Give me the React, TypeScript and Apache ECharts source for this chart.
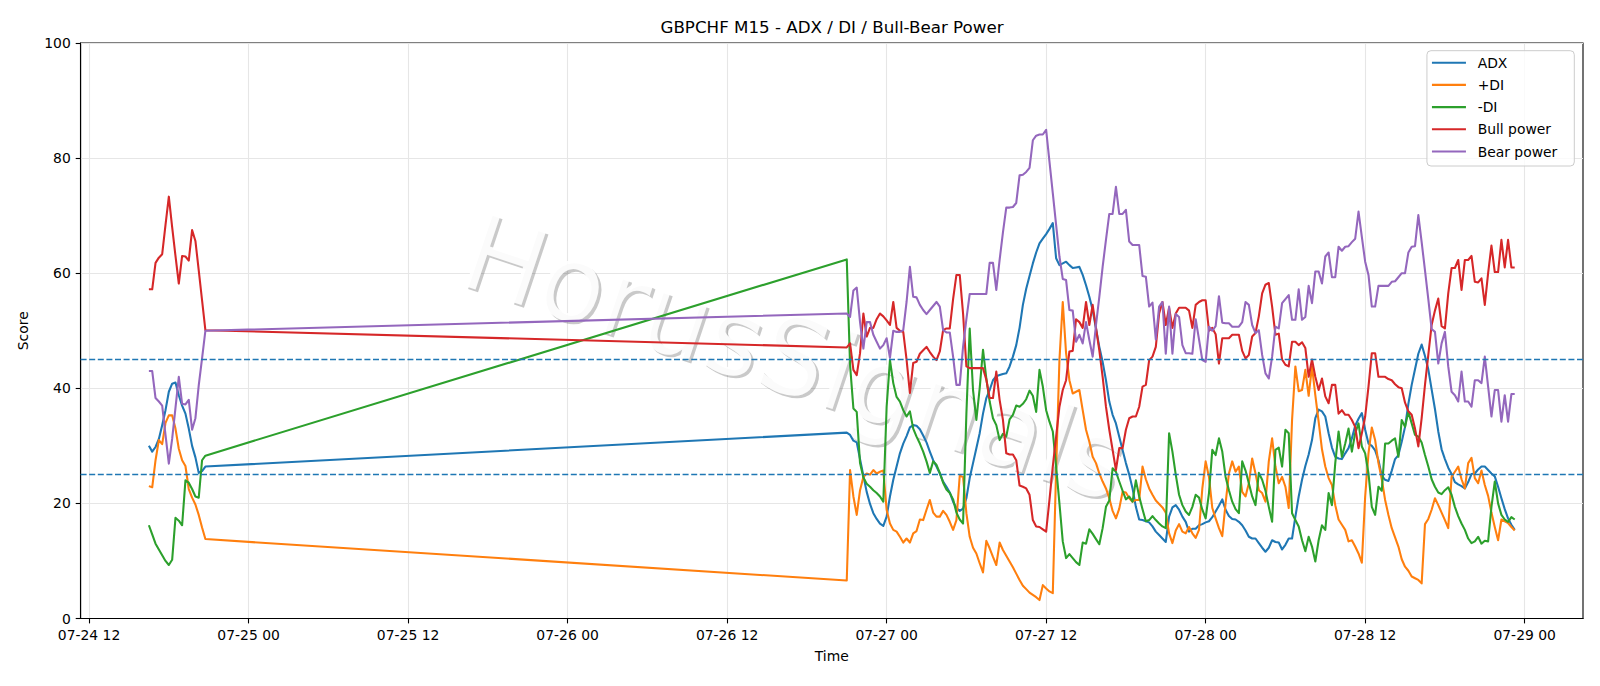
import React, { useEffect, useRef } from "react";
import * as echarts from "echarts";

// ---- data ----
const seg1Start = "2026-07-24T16:30:00Z";
const seg2Start = "2026-07-26T21:00:00Z";
const barMinutes = 15;

const adx1 = [30.0, 29.0, 29.8, 31.2, 33.6, 36.2, 39.4, 40.8, 41.0, 38.8, 37.0, 35.6, 33.0, 30.0, 28.0, 25.3, 25.6, 26.4];
const plusDi1 = [23.0, 22.8, 27.5, 31.0, 30.3, 34.0, 35.3, 35.3, 33.0, 29.5, 27.5, 26.5, 22.5, 21.0, 19.8, 18.0, 15.8, 13.8];
const minusDi1 = [16.2, 14.6, 13.0, 12.0, 11.0, 10.0, 9.3, 10.2, 17.5, 17.0, 16.2, 24.0, 23.6, 22.5, 21.2, 21.0, 27.5, 28.3];
const bull1 = [57.2, 57.2, 61.8, 62.7, 63.3, 68.4, 73.3, 68.0, 63.0, 58.2, 63.0, 62.9, 62.2, 67.5, 65.6, 60.5, 55.3, 50.1];
const bear1 = [43.0, 43.0, 38.3, 37.7, 37.0, 31.9, 26.9, 31.2, 36.6, 42.0, 37.3, 37.2, 38.0, 32.8, 34.8, 40.5, 45.2, 50.0];

const adx2 = [
  32.3, 31.9, 30.9, 30.6, 27.7, 24.8, 22.0, 19.9, 18.3, 17.3,
  16.5, 16.1, 17.7, 21.2, 24.1, 26.4, 28.7, 30.4, 31.7, 33.2,
  33.6, 33.5, 32.9, 31.8, 30.6, 29.0, 27.5, 26.4, 25.2, 23.8,
  22.9, 21.9, 20.3, 19.2, 18.7, 19.1, 20.9, 24.4, 27.0, 29.6,
  32.2, 35.6, 38.3, 39.7, 41.4, 42.1, 42.3, 42.5, 42.6, 43.8,
  45.5, 47.5, 50.5, 54.5, 57.3, 59.5, 61.7, 63.6, 65.2, 66.0,
  66.8, 67.7, 68.7, 62.6, 61.4, 61.7, 62.0, 61.4, 60.9, 61.0,
  61.1, 59.7, 57.9, 55.9, 53.6, 50.4, 47.2, 44.6, 41.4, 37.7,
  35.4, 33.9, 31.6, 29.3, 27.0, 25.0, 22.6, 19.4, 17.2, 17.1,
  16.9, 16.7, 16.0, 15.1, 14.5, 13.9, 13.3, 17.7, 19.3, 19.7,
  18.9, 17.7, 16.8, 15.1, 15.6, 15.6, 16.2, 16.4, 16.7, 16.9,
  17.6, 18.6, 19.6, 20.7, 18.9, 17.8, 17.3, 17.2, 16.8, 16.2,
  15.3, 14.2, 13.9, 13.9, 13.1, 12.3, 11.6, 12.3, 13.6, 13.3,
  13.2, 12.0, 12.8, 13.9, 13.9, 17.7, 21.2, 24.1, 26.5, 28.5,
  31.0, 34.8, 36.3, 36.0, 35.1, 32.2, 29.7, 28.1, 27.8, 27.7,
  28.7, 29.6, 31.3, 33.5, 34.7, 35.7, 32.8, 30.4, 30.0, 29.2,
  27.5, 24.8, 24.1, 23.9, 25.7, 27.7, 28.4, 30.7, 33.3, 37.3,
  40.6, 43.3, 46.0, 47.6, 45.6, 43.3, 39.8, 36.4, 32.5, 29.4,
  27.7, 26.2, 25.1, 23.7, 23.3, 23.0, 22.6, 23.7, 25.1, 25.2,
  25.9, 26.4, 26.4, 25.8, 25.2, 24.7, 22.9, 20.9, 19.0, 17.4,
  16.3, 15.4,
];
const plusDi2 = [
  6.6, 25.8, 21.2, 18.0, 22.3, 24.6, 25.2, 25.0, 25.8, 25.2,
  25.5, 25.7, 18.9, 16.5, 15.4, 15.1, 14.2, 13.2, 13.9, 13.2,
  14.8, 15.2, 17.2, 17.1, 18.9, 20.6, 18.4, 17.7, 17.7, 18.7,
  18.0, 16.8, 15.4, 17.1, 24.8, 24.6, 18.3, 14.2, 12.3, 11.3,
  9.6, 8.0, 13.5, 12.2, 10.7, 9.3, 13.2, 11.9, 10.9, 9.9,
  8.9, 7.8, 6.7, 5.7, 5.1, 4.5, 4.1, 3.7, 3.2, 5.8,
  5.2, 4.7, 4.4, 25.8, 44.9, 55.0, 46.1, 41.4, 39.1, 39.4,
  39.7, 36.2, 32.8, 30.7, 28.1, 27.0, 25.2, 23.8, 22.6, 20.9,
  18.7, 17.4, 19.1, 22.0, 21.9, 20.9, 20.3, 20.6, 20.6, 26.4,
  24.2, 22.6, 21.5, 20.5, 19.9, 19.3, 18.4, 14.8, 13.1, 15.3,
  16.4, 15.1, 14.8, 15.9, 14.8, 14.0, 15.4, 22.6, 27.3, 24.6,
  19.2, 17.4, 15.7, 14.3, 20.0, 25.2, 27.3, 25.5, 26.4, 22.0,
  21.2, 23.5, 27.8, 25.2, 22.3, 21.8, 20.3, 27.3, 31.3, 26.4,
  23.5, 24.6, 22.9, 19.2, 34.5, 43.8, 39.5, 39.7, 43.2, 38.7,
  43.8, 38.8, 34.2, 29.4, 26.4, 24.4, 23.2, 19.7, 17.2, 16.3,
  15.4, 13.4, 13.6, 12.5, 11.3, 9.7, 21.2, 28.7, 33.2, 31.0,
  27.0, 24.2, 20.6, 18.0, 15.7, 14.1, 12.5, 10.3, 9.0, 8.3,
  7.3, 7.0, 6.7, 6.1, 16.4, 17.3, 18.9, 20.9, 19.7, 18.4,
  17.1, 15.7, 24.6, 25.5, 26.4, 24.2, 22.6, 27.0, 27.9, 24.4,
  23.5, 25.7, 23.2, 21.3, 18.4, 15.9, 13.6, 17.2, 16.9, 16.6,
  15.9, 15.3,
];
const minusDi2 = [
  62.4, 44.0, 36.5, 35.9, 27.0, 24.5, 23.4, 22.9, 22.3, 21.8,
  21.2, 20.3, 36.8, 44.9, 40.9, 38.5, 37.7, 36.2, 35.1, 36.0,
  33.0, 31.6, 30.4, 29.0, 27.3, 25.3, 27.3, 26.7, 25.3, 23.6,
  22.4, 21.8, 20.7, 18.4, 17.2, 16.5, 35.6, 50.4, 39.7, 34.5,
  40.0, 46.7, 41.7, 37.7, 34.8, 33.6, 31.0, 32.1, 31.6, 34.6,
  35.4, 37.0, 36.8, 37.3, 38.1, 39.6, 38.7, 35.9, 43.2, 40.3,
  36.2, 34.2, 32.5, 26.4, 20.0, 13.4, 10.5, 11.2, 10.5, 9.8,
  9.3, 13.2, 13.0, 15.5, 14.7, 13.8, 12.9, 15.7, 19.4, 20.5,
  26.1, 25.5, 23.8, 22.2, 20.7, 21.2, 20.3, 24.0, 21.2, 19.0,
  16.9, 17.1, 17.8, 17.1, 16.5, 16.0, 15.7, 32.2, 29.0, 25.0,
  21.5, 19.7, 18.6, 18.0, 19.4, 21.5, 21.0, 18.9, 17.4, 21.8,
  29.3, 28.4, 31.3, 29.0, 24.6, 22.3, 20.3, 19.0, 18.3, 27.3,
  25.7, 23.5, 21.2, 19.7, 25.3, 24.1, 22.2, 19.4, 16.8, 29.3,
  29.7, 26.4, 32.8, 32.2, 18.3, 17.1, 16.0, 13.6, 11.7, 14.2,
  12.5, 9.9, 13.6, 16.2, 15.4, 21.8, 19.7, 27.0, 32.5, 28.1,
  30.4, 33.0, 29.0, 32.2, 33.9, 29.9, 28.7, 25.2, 19.4, 18.0,
  22.9, 22.2, 30.4, 30.4, 30.9, 31.3, 28.1, 34.5, 33.3, 35.9,
  33.9, 31.9, 31.6, 30.6, 28.4, 26.4, 24.2, 22.9, 21.9, 21.6,
  22.3, 22.8, 21.5, 19.4, 17.8, 16.5, 15.4, 13.9, 13.1, 13.4,
  14.2, 13.0, 13.5, 13.4, 19.4, 23.8, 20.0, 18.0, 17.2, 16.8,
  17.6, 17.2,
];
const bull2 = [
  47.1, 47.8, 43.2, 42.3, 46.1, 53.0, 49.0, 50.5, 50.5, 52.0,
  53.0, 52.5, 51.8, 51.0, 55.0, 50.5, 50.0, 49.8, 45.0, 39.2,
  44.4, 44.6, 46.0, 46.6, 47.2, 46.3, 45.5, 44.9, 46.4, 50.1,
  50.4, 50.4, 55.5, 59.7, 59.7, 53.0, 43.8, 43.5, 43.5, 43.5,
  43.5, 43.5, 41.5, 38.3, 38.3, 42.9, 38.0, 34.5, 28.7, 28.5,
  28.5, 27.5, 23.1, 22.9, 22.6, 21.5, 17.1, 16.0, 15.9, 15.5,
  15.1, 20.6, 26.4, 31.6, 36.8, 39.7, 41.4, 46.4, 46.5, 52.0,
  51.5, 50.5, 55.0, 51.0, 54.5, 50.5, 46.6, 42.0, 36.8, 32.8,
  29.3, 25.8, 29.6, 29.6, 32.8, 34.8, 35.1, 35.1, 36.8, 40.3,
  40.6, 44.9, 45.5, 47.2, 53.0, 55.0, 51.0, 54.0, 50.5, 53.0,
  54.0, 54.0, 54.0, 53.5, 50.5, 54.5, 55.0, 55.3, 55.3, 50.0,
  50.5, 49.4, 44.3, 48.7, 48.7, 48.7, 49.3, 49.3, 49.3, 46.5,
  45.2, 45.8, 49.0, 49.6, 52.5, 56.5, 58.0, 58.3, 54.2, 49.3,
  49.5, 45.0, 44.1, 43.8, 48.1, 48.1, 47.5, 48.0, 47.0, 42.0,
  45.0, 42.0, 39.7, 41.7, 38.6, 37.4, 40.6, 40.6, 35.6, 36.2,
  35.4, 35.4, 34.5, 33.3, 29.6, 32.2, 35.1, 40.3, 46.1, 46.1,
  42.0, 42.0, 42.0, 41.6, 41.4, 40.7, 40.2, 40.0, 37.5, 36.0,
  35.4, 33.0, 29.9, 34.8, 40.6, 45.8, 51.0, 53.5, 55.6, 50.8,
  50.4, 56.5, 60.9, 60.9, 62.3, 57.1, 62.3, 62.3, 63.0, 58.5,
  58.4, 59.1, 54.5, 60.0, 64.8, 60.2, 60.2, 65.8, 61.0, 65.8,
  61.0, 61.0,
];
const bear2 = [
  53.0, 52.4, 57.0, 57.5, 51.5, 46.9, 51.5, 51.5, 49.3, 48.1,
  46.9, 47.5, 48.7, 45.3, 50.0, 49.8, 49.8, 50.1, 55.0, 61.1,
  55.9, 55.8, 54.5, 53.6, 52.9, 53.6, 54.3, 55.0, 54.2, 50.1,
  49.7, 49.7, 45.5, 40.6, 40.6, 47.2, 52.0, 56.4, 56.4, 56.4,
  56.4, 56.4, 56.4, 61.8, 61.8, 57.1, 62.3, 67.1, 71.4, 71.4,
  71.5, 72.2, 77.0, 77.1, 77.6, 78.3, 83.1, 83.9, 84.1, 84.1,
  84.9, 79.4, 73.9, 68.4, 62.9, 59.0, 58.8, 53.6, 53.5, 48.1,
  49.3, 47.8, 51.5, 48.4, 45.5, 51.0, 55.9, 61.1, 65.8, 70.3,
  70.3, 75.0, 70.3, 70.3, 71.0, 65.5, 64.9, 64.9, 64.9, 59.5,
  59.4, 54.2, 54.9, 48.5, 54.2, 55.0, 46.0, 54.2, 46.0, 52.9,
  52.4, 47.5, 46.1, 46.1, 46.0, 52.0, 48.5, 44.9, 44.6, 50.7,
  50.0, 50.8, 56.0, 51.4, 51.3, 51.3, 50.7, 50.7, 50.7, 51.5,
  55.0, 54.5, 51.0, 49.6, 50.1, 45.8, 42.6, 41.7, 45.5, 50.7,
  50.4, 54.8, 55.5, 56.2, 51.9, 51.9, 57.2, 51.9, 52.4, 57.8,
  54.8, 60.3, 60.3, 58.2, 62.9, 63.6, 59.3, 59.3, 64.6, 63.9,
  64.6, 64.7, 65.4, 66.0, 70.7, 66.3, 62.0, 59.7, 54.2, 54.2,
  57.8, 57.8, 57.8, 57.8, 58.5, 58.6, 59.3, 60.0, 60.0, 63.6,
  64.6, 64.7, 70.1, 65.4, 60.5, 55.5, 50.3, 49.8, 44.3, 47.8,
  49.8, 43.8, 39.4, 38.8, 37.7, 42.9, 37.7, 37.7, 36.8, 41.4,
  41.4, 40.9, 45.5, 40.3, 35.1, 39.7, 39.7, 34.2, 38.8, 34.2,
  39.0, 39.0,
];

const seriesNames = ["ADX", "+DI", "-DI", "Bull power", "Bear power"];
const seriesColors = ["#1f77b4", "#ff7f0e", "#2ca02c", "#d62728", "#9467bd"];
const thresholdLevels = [25, 45];
const xTickTimes = [
  "2026-07-24T12:00:00Z", "2026-07-25T00:00:00Z", "2026-07-25T12:00:00Z",
  "2026-07-26T00:00:00Z", "2026-07-26T12:00:00Z", "2026-07-27T00:00:00Z",
  "2026-07-27T12:00:00Z", "2026-07-28T00:00:00Z", "2026-07-28T12:00:00Z",
  "2026-07-29T00:00:00Z",
];
const titleText = "GBPCHF M15 - ADX / DI / Bull-Bear Power";
const watermarkText = "HorusSignals";

// ---- helpers ----
const FONT = "DejaVu Sans";
const segTimes = (start: string, n: number) => {
  const t0 = Date.parse(start);
  return Array.from({ length: n }, (_, i) => t0 + i * barMinutes * 60000);
};
const times = [...segTimes(seg1Start, adx1.length), ...segTimes(seg2Start, adx2.length)];
const seriesValues = [
  [...adx1, ...adx2],
  [...plusDi1, ...plusDi2],
  [...minusDi1, ...minusDi2],
  [...bull1, ...bull2],
  [...bear1, ...bear2],
];
const pad2 = (n: number) => String(n).padStart(2, "0");
const fmtTime = (v: number) => {
  const d = new Date(v);
  return `${pad2(d.getUTCMonth() + 1)}-${pad2(d.getUTCDate())} ${pad2(d.getUTCHours())}`;
};

export default function App() {
  const ref = useRef<HTMLDivElement>(null);
  useEffect(() => {
    if (!ref.current) return;
    const chart = echarts.init(ref.current, undefined, { renderer: "svg" });
    const tFirst = times[0];
    const tLast = times[times.length - 1];
    const span = tLast - tFirst;
    const xMin = tFirst - 0.05 * span;
    const xMax = tLast + 0.05 * span;
    const tickVals = xTickTimes.map((s) => Date.parse(s));

    const series: any[] = seriesNames.map((name, k) => ({
      name,
      type: "line",
      data: times.map((t, i) => [t, seriesValues[k][i]]),
      showSymbol: false,
      symbol: "none",
      silent: true,
      z: 3 + k,
      lineStyle: { color: seriesColors[k], width: 2.08, join: "round", cap: "butt" },
      itemStyle: { color: seriesColors[k] },
    }));
    series[0].markLine = {
      silent: true,
      symbol: "none",
      label: { show: false },
      z: 20,
      lineStyle: { color: "#1f77b4", type: [6, 2.6], width: 1.4 },
      data: thresholdLevels.map((v) => ({ yAxis: v })),
    };

    const wx = 795;
    const wy = 358;
    const rot = (-18.5 * Math.PI) / 180;
    const wmStyle = {
      text: watermarkText,
      fontSize: 106,
      fontFamily: FONT,
      align: "center",
      verticalAlign: "middle",
      textAlign: "center",
      textVerticalAlign: "middle",
    };

    chart.setOption({
      animation: false,
      backgroundColor: "#ffffff",
      title: {
        text: titleText,
        left: 832,
        top: 18,
        textAlign: "center",
        padding: 0,
        textStyle: { fontFamily: FONT, fontSize: 16.7, fontWeight: "normal", color: "#000" },
      },
      grid: {
        left: 80.6,
        top: 43,
        width: 1502.4,
        height: 575.5,
        show: true,
        borderColor: "#000",
        borderWidth: 1.1,
        backgroundColor: "transparent",
      },
      legend: {
        orient: "vertical",
        right: 25.7,
        top: 50.7,
        data: seriesNames.map((n) => ({ name: n, icon: "rect" })),
        itemWidth: 34,
        itemHeight: 2.1,
        itemGap: 6.2,
        padding: [4, 17, 6.5, 5],
        backgroundColor: "rgba(255,255,255,0.8)",
        borderColor: "#cccccc",
        borderWidth: 1,
        borderRadius: 4,
        textStyle: { fontFamily: FONT, fontSize: 13.9, color: "#000", lineHeight: 16, padding: [0, 0, 0, 6.7] },
        selectedMode: false,
        z: 30,
      },
      xAxis: {
        type: "value",
        min: xMin,
        max: xMax,
        name: "Time",
        nameLocation: "middle",
        nameGap: 30.5,
        nameTextStyle: { fontFamily: FONT, fontSize: 13.9, color: "#000" },
        axisLine: { show: true, lineStyle: { color: "#000", width: 1.1 } },
        axisTick: { show: true, inside: false, length: 4.9, customValues: tickVals, lineStyle: { color: "#000", width: 1.1 } },
        axisLabel: {
          customValues: tickVals,
          formatter: (v: number) => fmtTime(v),
          fontFamily: FONT,
          fontSize: 13.9,
          color: "#000",
          margin: 9.8,
        },
        splitLine: { show: true, lineStyle: { color: "#e6e6e6", width: 1.1 } },
      },
      yAxis: {
        type: "value",
        min: 0,
        max: 100,
        interval: 20,
        name: "Score",
        nameLocation: "middle",
        nameGap: 51,
        nameTextStyle: { fontFamily: FONT, fontSize: 13.9, color: "#000" },
        axisLine: { show: true, lineStyle: { color: "#000", width: 1.1 } },
        axisTick: { show: true, inside: false, length: 4.9, lineStyle: { color: "#000", width: 1.1 } },
        axisLabel: { fontFamily: FONT, fontSize: 13.9, color: "#000", margin: 9.8 },
        splitLine: { show: true, lineStyle: { color: "#e6e6e6", width: 1.1 } },
      },
      graphic: [
        {
          type: "text",
          x: wx + 2.6,
          y: wy + 2.6,
          rotation: rot,
          z: 1,
          silent: true,
          style: { ...wmStyle, fill: "rgba(77,77,77,0.3)" },
        },
        {
          type: "text",
          x: wx,
          y: wy,
          rotation: rot,
          z: 1,
          silent: true,
          style: { ...wmStyle, fill: "rgba(255,255,255,0.92)" },
        },
      ],
      series,
    });
    return () => chart.dispose();
  }, []);
  return (
    <div
      ref={ref}
      style={{ position: "absolute", left: 0, top: 0, width: 1600, height: 686, background: "#fff" }}
    />
  );
}
